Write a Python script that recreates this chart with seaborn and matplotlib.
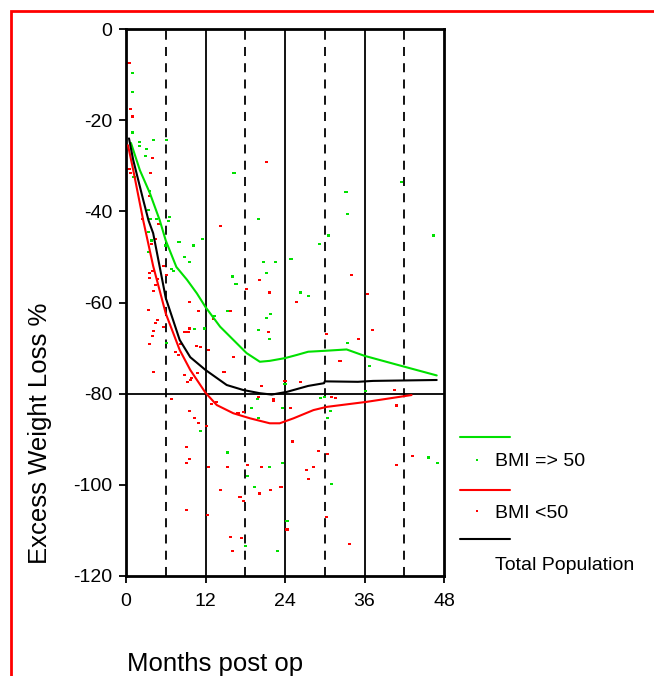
import numpy as np
import pandas as pd
import seaborn as sns
import matplotlib.pyplot as plt
from matplotlib.lines import Line2D
from matplotlib.patches import Rectangle

#%% Data (months post op, excess weight loss %)
green_curve_x = [0.75, 2.1, 3.6, 5.1, 6.0, 7.6, 9.2, 10.7, 12.0, 14.2, 16.2, 18.2, 20.2,
                 21.7, 24.0, 25.8, 27.5, 30.0, 33.3, 36.0, 41.8, 46.9]
green_curve_y = [-25, -31, -36, -42, -46.4, -52.2, -55, -58, -61, -65.3, -68.2, -71.1, -73,
                 -72.8, -72.2, -71.5, -70.8, -70.6, -70.3, -71.7, -74, -76]

red_curve_x = [0.3, 1.1, 2.6, 4.1, 6.0, 8.1, 9.7, 12.0, 13.7, 16.2, 18.7, 21.7, 23.2,
               25.3, 28.3, 30.3, 36.3, 43.1]
red_curve_y = [-25.5, -31, -42, -52, -62.4, -70.4, -74.8, -79.8, -82.5, -84.3, -85.4, -86.5,
               -86.5, -85.4, -83.6, -82.9, -81.8, -80.3]

total_curve_x = [0.45, 1.1, 2.6, 3.4, 4.1, 6.0, 8.1, 9.7, 12.0, 15.2, 17.7, 20.2, 22.0,
                 24.3, 27.5, 29.9, 30.0, 35.0, 37.3, 46.9]
total_curve_y = [-24, -28.8, -37.5, -42, -44.8, -59, -68.2, -72, -74.8, -78.1, -79.2, -79.9,
                 -80.2, -79.6, -78.3, -77.7, -77.3, -77.4, -77.2, -77]

green_pts_x = [0.95, 0.95, 0.95, 2.1, 2.1, 4.2, 6.1, 3.1, 2.9, 1.2, 16.3, 3.6, 3.4, 6.6, 20,
               6.4, 3.7, 4.6, 3.4, 3.8, 8.0, 10.2, 11.5, 5.9, 3.4, 8.8, 9.6, 6.9, 7.2, 16.1,
               16.6, 20.7, 22.6, 21.2, 15.3, 13.4, 21.2, 21.8, 10.4, 11.8, 6.1, 20, 21.7, 20,
               11.2, 18.9, 19.9, 20, 23.6, 24, 29.3, 29.9, 30.9, 30.4, 36.1, 15.3, 18.1, 18.3,
               19.4, 21.6, 22.9, 23.6, 24.3, 31, 45.6, 47, 41.6, 33.2, 33.5, 30.5, 29.2, 46.4,
               24.9, 26.4, 27.5, 33.5, 36.7]
green_pts_y = [-9.7, -13.8, -22.7, -24.7, -25.6, -24.4, -24.4, -26.3, -27.9, -32.5, -31.5,
               -35.5, -39.7, -41.3, -41.7, -42.1, -41.7, -41.7, -44.6, -46.4, -46.8, -47.5,
               -46.1, -47.5, -48.9, -50, -51.1, -52.7, -53, -54.3, -55.9, -51.1, -51.1, -53.5,
               -61.8, -62.9, -63.3, -62.6, -65.9, -65.7, -68.8, -66, -68, -80.7, -88.1, -83.1,
               -81.2, -85.4, -83.1, -77.9, -81, -80.7, -83.8, -85.4, -79.4, -92.9, -113.4,
               -98.1, -100.4, -96, -114.5, -95.2, -107.9, -99.9, -94, -95.2, -33.5, -35.8,
               -40.6, -45.3, -47.2, -45.3, -50.4, -57.8, -58.6, -68.8, -74]

red_pts_x = [0.45, 0.7, 0.95, 4.0, 0.45, 0.7, 3.7, 21.2, 3.5, 2.5, 4.9, 14.2, 4.5, 3.8, 5.6,
             4.0, 3.6, 6.1, 3.6, 4.7, 4.4, 4.1, 20.2, 18.2, 21.7, 3.4, 9.6, 11, 15.8, 13.2,
             4.7, 4.5, 5.6, 4.2, 4.0, 3.6, 9.6, 8.9, 9.4, 12.4, 10.7, 11.3, 8.2, 7.5, 7.9,
             21.5, 16.2, 14.8, 4.2, 8.8, 9.7, 9.3, 10.8, 9.9, 20.5, 6.9, 22.2, 9.6, 10.4,
             10.9, 12.1, 12.9, 13.7, 16.9, 17.7, 20, 22.3, 24.8, 26.4, 31, 31.6, 40.5, 40.8,
             9.1, 9.1, 9.6, 9.1, 12.4, 12.3, 14.2, 15.3, 15.8, 16.1, 17.5, 18.3, 17.2, 17.7,
             20.2, 20.5, 21.8, 23.4, 24.3, 25.1, 27.3, 27.5, 28.3, 29.1, 30.4, 30.2, 33.7,
             40.8, 43.2, 34, 25.7, 36.4, 37.2, 35.1, 30.2, 32.3, 24]
red_pts_y = [-7.4, -17.6, -19.2, -28.2, -30.7, -31.5, -31.5, -29.1, -36.6, -41.7, -42.8,
             -43.2, -46.1, -47.2, -51.9, -53.1, -53.5, -53.9, -54.7, -54.8, -56.2, -57.4,
             -55.1, -57, -57.8, -61.6, -59.8, -61.8, -61.8, -63.6, -63.8, -64.4, -65.3,
             -66.3, -67.3, -69.2, -65.7, -66.5, -66.5, -70.4, -69.5, -69.8, -69.2, -70.8,
             -71.5, -66.5, -71.9, -75.2, -75.2, -75.9, -77, -77.4, -75.5, -76.6, -78.3,
             -81.2, -81.2, -83.8, -85.4, -86.5, -87, -82.3, -81.9, -84.2, -84, -80.7, -81.5,
             -83.1, -77.5, -80.7, -81, -79.1, -82.6, -91.6, -95.3, -94.4, -105.5, -96,
             -106.6, -101.1, -96, -111.4, -114.5, -111.7, -95.7, -102.7, -103.5, -101.9, -96,
             -101.1, -100.4, -109.8, -90.5, -96.8, -98.8, -96, -92.5, -93.2, -107, -113,
             -95.7, -93.7, -53.9, -59.8, -58.2, -66, -68.1, -66.9, -72.8, -77.2]

x_ticks = [0, 12, 24, 36, 48]
y_ticks = [0, -20, -40, -60, -80, -100, -120]
solid_months = [12, 24, 36]
dashed_months = [6, 18, 30, 42]

GREEN = "#00e000"
RED = "#ff0000"
# small flat dash used for the individual patients
DASH = [(-1.5, -1), (1.5, -1), (1.5, 1), (-1.5, 1)]

#%% Build tables for seaborn
curves = pd.concat([
    pd.DataFrame({"month": green_curve_x, "ewl": green_curve_y, "group": "green"}),
    pd.DataFrame({"month": red_curve_x, "ewl": red_curve_y, "group": "red"}),
    pd.DataFrame({"month": total_curve_x, "ewl": total_curve_y, "group": "total"}),
])
points = pd.concat([
    pd.DataFrame({"month": green_pts_x, "ewl": green_pts_y, "group": "green"}),
    pd.DataFrame({"month": red_pts_x, "ewl": red_pts_y, "group": "red"}),
])
palette = {"green": GREEN, "red": RED, "total": "black"}

#%% Plot
sns.set_style("ticks")
plt.rcParams["font.family"] = ["Liberation Sans", "DejaVu Sans"]
plt.rcParams["axes.unicode_minus"] = False
plt.rcParams["text.color"] = "black"
plt.rcParams["xtick.color"] = "black"
plt.rcParams["ytick.color"] = "black"

fig = plt.figure(figsize=(6.54, 6.76), dpi=100)
ax = fig.add_axes([126 / 654, 1 - 576 / 676, 318 / 654, 547 / 676])

for m in solid_months:
    ax.axvline(m, color="black", lw=1.3, zorder=1)
for m in dashed_months:
    ax.axvline(m, color="black", lw=1.3, ls=(0, (5, 4)), zorder=1)
ax.axhline(-80, color="black", lw=1.3, zorder=1)

sns.scatterplot(data=points, x="month", y="ewl", hue="group", palette=palette,
                marker=DASH, s=5, linewidth=0, legend=False, ax=ax, zorder=2)
sns.lineplot(data=curves, x="month", y="ewl", hue="group", palette=palette,
             estimator=None, sort=False, lw=1.5, legend=False, ax=ax, zorder=3)

ax.set_xlim(0, 48)
ax.set_ylim(-120, 0)
ax.set_xticks(x_ticks)
ax.set_yticks(y_ticks)
ax.tick_params(labelsize=14, length=5, width=1.3, color="black", labelcolor="black")
ax.tick_params(axis="x", pad=7)
ax.tick_params(axis="y", pad=5)
ax.set_xlabel("")
ax.set_ylabel("")
for sp in ax.spines.values():
    sp.set_visible(True)
    sp.set_linewidth(2)
    sp.set_color("black")

fig.text(127 / 654, 1 - 664 / 676, "Months post op", fontsize=18.5, ha="left", va="center")
fig.text(40 / 654, 1 - 433 / 676, "Excess Weight Loss %", fontsize=18.5, rotation=90,
         ha="center", va="center")

# legend drawn by hand, in figure pixels
def px(x, y):
    return x / 654, 1 - y / 676

legend_rows = [(437, 462, GREEN, "BMI => 50"), (490, 513, RED, "BMI <50"),
               (539, 566, None, "Total Population")]
for line_y, text_y, col, label in legend_rows:
    (x0, y0), (x1, _) = px(460, line_y), px(510, line_y)
    fig.add_artist(Line2D([x0, x1], [y0, y0], color=col or "black", lw=1.5,
                          transform=fig.transFigure))
    if col is not None:
        mx, my = px(477, text_y - 2)
        fig.add_artist(Line2D([mx], [my], marker="s", ms=2, mew=0, color=col,
                              transform=fig.transFigure))
    tx, ty = px(495, text_y)
    fig.text(tx, ty, label, fontsize=14, ha="left", va="center")

# red frame around the whole chart
fig.add_artist(Rectangle(px(11, 800), 1.0, (800 - 11) / 676, fill=False, edgecolor=RED,
                         lw=2, transform=fig.transFigure))

fig.savefig("out.png", dpi=100)
